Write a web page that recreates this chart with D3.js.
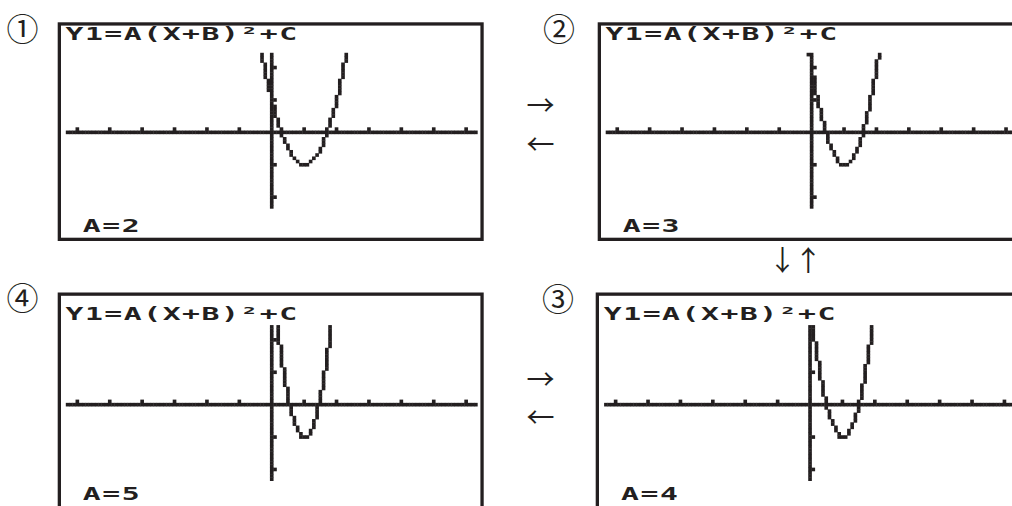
<!DOCTYPE html>
<html>
<head>
<meta charset="utf-8">
<title>Y1=A(X+B)²+C</title>
<style>
  body { margin: 0; background: #fff; }
  svg { display: block; }
  .calc {
    font-family: "DejaVu Sans Mono", monospace;
    font-weight: bold;
    font-size: 17.5px;
    letter-spacing: 0.9px;
    fill: #231f20;
  }
  .sym { font-family: "Noto Sans CJK JP", sans-serif; fill: #231f20; }
</style>
</head>
<body>
<script src="https://d3js.org/d3.v7.min.js"></script>
<script>
// one screen per value of A, B and C stay the same
var panelLabels = ["①", "②", "③", "④"];
var aValues = [2, 3, 4, 5];
var bValue = -1,
    cValue = -1;
var formula = "Y1=A(X+B)²+C";
var xTicks = [-6, -5, -4, -3, -2, -1, 1, 2, 3, 4, 5, 6];
var yTicks = [-2, -1, 1, 2];
var viewX = [-6.3, 6.3],
    viewY = [-3.1, 3.1];

var width = 1012, height = 506,
    dot = 3.24,          // size of one LCD dot on the page
    ink = "#231f20";

// where each screen sits (top row / bottom row differ a bit in the scan)
var layout = [
  {bx: 57.7,  by: 22.3,  sx: 66.0,  sy: 30.3,  title: 40.3,  label: 232.3, num: [22.5, 27.2]},
  {bx: 597.7, by: 22.3,  sx: 605.9, sy: 30.3,  title: 40.3,  label: 232.3, num: [559, 27.2]},
  {bx: 595.7, by: 292.5, sx: 604.3, sy: 302.6, title: 319.8, label: 499.7, num: [558, 297.2]},
  {bx: 57.7,  by: 292.5, sx: 66.0,  sy: 302.6, title: 319.8, label: 499.7, num: [22.5, 295.5]}
];

var colScale = d3.scaleLinear().domain(viewX).range([0, 126]);
var rowScale = d3.scaleLinear().domain([viewY[1], viewY[0]]).range([0, 62]);
var pix = d3.scaleLinear().domain([0, 1]).range([0, dot]);
var rowTop = 7, rowBottom = 54;   // rows left free by the two text lines

var svg = d3.select("body").append("svg")
    .attr("width", width)
    .attr("height", height);

function screenDots(a) {
  var seen = {}, dots = [];
  function add(c, r) {
    if (r < rowTop || r > rowBottom || c < 0 || c > 126) return;
    var k = c + "_" + r;
    if (seen[k]) return;
    seen[k] = true;
    dots.push([c, r]);
  }
  var r0 = Math.round(rowScale(0)), c0 = Math.round(colScale(0));
  // x axis runs across the whole screen
  d3.range(0, 127).forEach(function(c) { seen[c + "_" + r0] = true; dots.push([c, r0]); });
  xTicks.forEach(function(t) { seen[Math.round(colScale(t)) + "_" + (r0 - 1)] = true; dots.push([Math.round(colScale(t)), r0 - 1]); });
  d3.range(rowTop, rowBottom + 1).forEach(function(r) { add(c0, r); });
  yTicks.forEach(function(t) { add(c0 + 1, Math.round(rowScale(t))); });

  // graph in connect mode
  var prev = null;
  d3.range(0, 127).forEach(function(c) {
    var x = colScale.invert(c);
    var y = a * Math.pow(x + bValue, 2) + cValue;
    var r = Math.max(-5, Math.min(70, Math.round(rowScale(y))));
    if (prev === null) {
      add(c, r);
    } else {
      var lo = Math.min(prev, r), hi = Math.max(prev, r);
      for (var rr = lo; rr <= hi; rr++) {
        if (rr !== r && Math.abs(rr - prev) < Math.abs(rr - r)) add(c - 1, rr);
        else add(c, rr);
      }
    }
    prev = r;
  });
  return dots;
}

aValues.forEach(function(a, i) {
  var p = layout[i];

  svg.append("rect")
      .attr("x", p.bx + 1.65)
      .attr("y", p.by + 1.65)
      .attr("width", 426 - 3.3)
      .attr("height", 218.7 - 3.3)
      .attr("fill", "none")
      .attr("stroke", ink)
      .attr("stroke-width", 3.3);

  var scr = svg.append("g").attr("transform", "translate(" + p.sx + "," + p.sy + ")");
  scr.selectAll("rect")
      .data(screenDots(a))
      .enter().append("rect")
      .attr("x", function(d) { return pix(d[0]) - 0.2; })
      .attr("y", function(d) { return pix(d[1]) - 0.2; })
      .attr("width", dot + 0.4)
      .attr("height", dot + 0.4)
      .attr("fill", ink);

  svg.append("g")
      .attr("transform", "translate(" + (p.sx - 0.5) + "," + p.title + ") scale(1.7,1)")
    .append("text")
      .attr("class", "calc")
      .text(formula);

  svg.append("g")
      .attr("transform", "translate(" + (p.sx + 16.8) + "," + p.label + ") scale(1.7,1)")
    .append("text")
      .attr("class", "calc")
      .text("A=" + a);

  svg.append("text")
      .attr("class", "sym")
      .attr("x", p.num[0])
      .attr("y", p.num[1])
      .attr("text-anchor", "middle")
      .attr("dominant-baseline", "central")
      .style("font-size", "32px")
      .text(panelLabels[i]);
});

// arrows between the screens
var arrows = [
  {t: "→", x: 540.5, y: 104.3},
  {t: "←", x: 540.5, y: 143.3},
  {t: "→", x: 540.5, y: 378},
  {t: "←", x: 540.5, y: 416.3},
  {t: "↓", x: 782.5, y: 258.5},
  {t: "↑", x: 808.3, y: 258.5}
];
svg.selectAll(".arrow")
    .data(arrows)
    .enter().append("text")
    .attr("class", "sym arrow")
    .attr("x", function(d) { return d.x; })
    .attr("y", function(d) { return d.y; })
    .attr("text-anchor", "middle")
    .attr("dominant-baseline", "central")
    .style("font-size", "28px")
    .text(function(d) { return d.t; });
</script>
</body>
</html>
